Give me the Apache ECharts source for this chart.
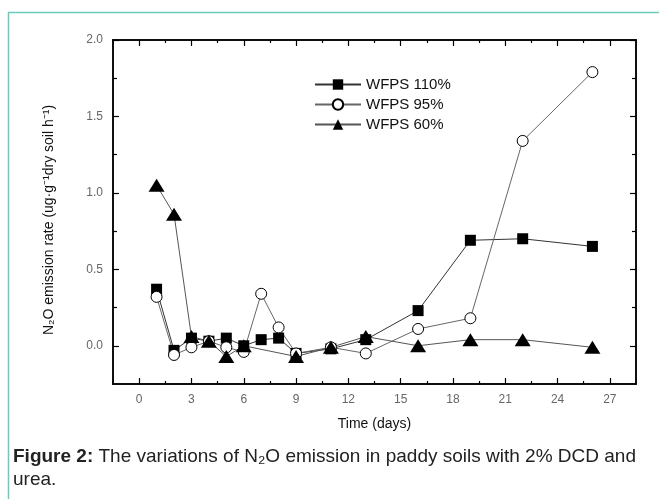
<!DOCTYPE html>
<html>
<head>
<meta charset="utf-8">
<script src="https://cdn.jsdelivr.net/npm/echarts@6/dist/echarts.min.js"></script>
<style>
  html, body { margin: 0; padding: 0; background: #fff; }
  #chart { width: 659px; height: 499px; }
</style>
</head>
<body>
<div id="chart"></div>
<script>
// sampling days
const days = [1, 2, 3, 4, 5, 6, 7, 8, 9, 11, 13, 16, 19, 22, 26];

// N2O emission rate, ug/g dry soil/h
const wfps110 = [0.37, -0.03, 0.05, 0.03, 0.05, 0.0, 0.04, 0.05, -0.05, -0.02, 0.04, 0.23, 0.69, 0.70, 0.65];
const wfps95 = [0.32, -0.06, -0.01, 0.03, -0.01, -0.04, 0.34, 0.12, -0.05, -0.01, -0.05, 0.11, 0.18, 1.34, 1.79];
const wfps60 = [1.05, 0.86, 0.06, 0.03, -0.07, 0.0, null, null, -0.07, -0.01, 0.06, 0.0, 0.04, 0.04, -0.01];

const seriesNames = ['WFPS 110%', 'WFPS 95%', 'WFPS 60%'];

const xMajor = [0, 3, 6, 9, 12, 15, 18, 21, 24, 27];
const xMinor = [1.5, 4.5, 7.5, 10.5, 13.5, 16.5, 19.5, 22.5, 25.5];
const yMajor = [0, 0.5, 1.0, 1.5, 2.0];
const yMinor = [0.25, 0.75, 1.25, 1.75];

const font = 'Liberation Sans, Arial, sans-serif';

function pairs(vals) {
  return days.map((d, i) => [d, vals[i]]);
}

function xAxis(pos, ticks, len, labels) {
  return {
    type: 'value', position: pos, min: -1.5, max: 28.5,
    axisLine: { show: true, onZero: false, lineStyle: { color: '#000', width: 1.5 } },
    axisTick: { show: true, inside: true, length: len, customValues: ticks, lineStyle: { color: '#000', width: 1.2 } },
    axisLabel: labels ? { customValues: ticks, color: '#666', fontSize: 12, fontFamily: font, margin: 10 } : { show: false },
    splitLine: { show: false }
  };
}

function yAxis(pos, ticks, len, labels) {
  return {
    type: 'value', position: pos, min: -0.25, max: 2.0,
    axisLine: { show: true, onZero: false, lineStyle: { color: '#000', width: 1.5 } },
    axisTick: { show: true, inside: true, length: len, customValues: ticks, lineStyle: { color: '#000', width: 1.2 } },
    axisLabel: labels ? { customValues: ticks, color: '#666', fontSize: 12, fontFamily: font, margin: 10,
      formatter: v => v.toFixed(1) } : { show: false },
    splitLine: { show: false }
  };
}

const xAxes = [
  xAxis('bottom', xMajor, 6, true),
  xAxis('bottom', xMinor, 3, false),
  xAxis('top', xMajor, 6, false),
  xAxis('top', xMinor, 3, false)
];
xAxes[0].name = 'Time (days)';
xAxes[0].nameLocation = 'middle';
xAxes[0].nameGap = 33;
xAxes[0].nameTextStyle = { color: '#111', fontSize: 14, fontFamily: font };

const yAxes = [
  yAxis('left', yMajor, 6, true),
  yAxis('left', yMinor, 4, false),
  yAxis('right', yMajor, 6, false),
  yAxis('right', yMinor, 4, false)
];
yAxes[0].name = 'N\u2082O emission rate (ug\u00b7g\u207b\u00b9dry soil h\u207b\u00b9)';
yAxes[0].nameLocation = 'middle';
yAxes[0].nameGap = 57;
yAxes[0].nameTextStyle = { color: '#111', fontSize: 14, fontFamily: font, padding: [0, 16, 0, 0] };

const chart = echarts.init(document.getElementById('chart'), null, { renderer: 'canvas' });

chart.setOption({
  animation: false,
  backgroundColor: '#fff',
  grid: { left: 113, top: 40, right: 23, bottom: 115, containLabel: false },
  legend: {
    orient: 'vertical', left: 309, top: 72,
    itemWidth: 46, itemHeight: 13, itemGap: 5,
    textStyle: { color: '#111', fontSize: 15, fontFamily: font },
    data: seriesNames
  },
  xAxis: xAxes,
  yAxis: yAxes,
  series: [
    {
      name: seriesNames[0], type: 'line', data: pairs(wfps110),
      symbol: 'rect', symbolSize: 11,
      itemStyle: { color: '#000' },
      lineStyle: { color: '#333', width: 1 }
    },
    {
      name: seriesNames[1], type: 'line', data: pairs(wfps95),
      symbol: 'circle', symbolSize: 11,
      itemStyle: { color: '#fff', borderColor: '#000', borderWidth: 1 },
      lineStyle: { color: '#666', width: 1 }
    },
    {
      name: seriesNames[2], type: 'line', data: pairs(wfps60), connectNulls: true,
      symbol: 'triangle', symbolSize: [16, 13],
      itemStyle: { color: '#000' },
      lineStyle: { color: '#555', width: 1 }
    }
  ],
  graphic: [
    {
      type: 'rect', silent: true,
      shape: { x: 8.5, y: 12.5, width: 700, height: 600 },
      style: { fill: 'none', stroke: '#6ccabd', lineWidth: 1.5 }
    },
    {
      type: 'text', left: 13, top: 445,
      style: {
        text: '{b|Figure 2:} The variations of N\u2082O emission in paddy soils with 2% DCD and\nurea.',
        fill: '#222', font: '19px ' + font, lineHeight: 23,
        rich: { b: { fontWeight: 'bold', fontSize: 19, fontFamily: font, fill: '#222' } }
      }
    }
  ]
});
</script>
</body>
</html>
